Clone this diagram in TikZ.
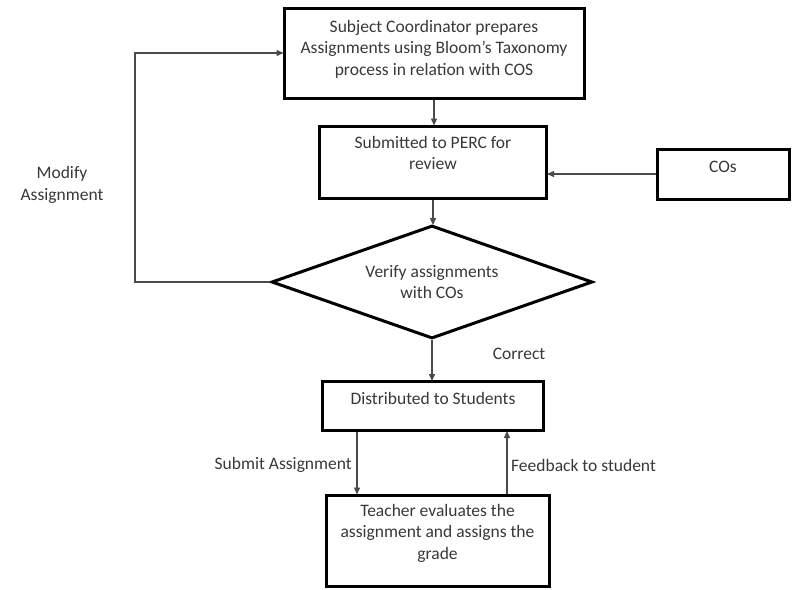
\documentclass[tikz,border=0pt]{standalone}
\usepackage{fontspec}
\setmainfont{Carlito}
\usetikzlibrary{arrows.meta,shapes.geometric}
\definecolor{ink}{HTML}{383838}
\definecolor{wire}{HTML}{4A4A4A}
\begin{document}
\begin{tikzpicture}[x=1pt,y=-1pt,
  stepbox/.style={draw=black,line width=3pt,inner sep=0pt,rectangle},
  decision/.style={draw=black,line width=3pt,inner sep=0pt,diamond},
  txt/.style={text=ink,align=center,inner sep=0pt,font=\fontsize{17.5}{21.5}\selectfont},
  flow/.style={draw=wire,line width=1.4pt,-{Triangle[length=7pt,width=6pt]},shorten >=-1pt}
]
\useasboundingbox (0,0) rectangle (792,589);

% process boxes
\node[stepbox,minimum width=300pt,minimum height=90pt] (b1) at (434,53) {};
\node[stepbox,minimum width=227pt,minimum height=72pt] (b2) at (433,162) {};
\node[stepbox,minimum width=132pt,minimum height=50pt] (cos) at (723,174) {};
\node[decision,minimum width=321pt,minimum height=113pt] (dia) at (432,282) {};
\node[stepbox,minimum width=221pt,minimum height=49pt] (b3) at (433,406) {};
\node[stepbox,minimum width=223pt,minimum height=91pt] (b4) at (437.5,540.5) {};

% box texts
\node[txt] (t1) at (434,49) {Subject Coordinator prepares\\Assignments using Bloom's Taxonomy\\process in relation with COS};
\node[txt] (t2) at (433,153) {Submitted to PERC for\\review};
\node[txt] (tcos) at (723,167) {COs};
\node[txt] (tdia) at (432,282) {Verify assignments\\with COs};
\node[txt] (t3) at (433,398) {Distributed to Students};
\node[txt] (t4) at (437.5,533) {Teacher evaluates the\\assignment and assigns the\\grade};

% edge labels
\node[txt] (lmod) at (62,185) {Modify\\Assignment};
\node[txt] (lcor) at (519,354) {Correct};
\node[txt,anchor=east] (lsub) at (352,465) {Submit Assignment};
\node[txt,anchor=west] (lfb) at (511,465) {Feedback to student};

% connectors
\coordinate (loop) at (135,282);
\coordinate (sub) at (357,0);
\coordinate (fb) at (507,0);
\draw[flow] (b1.south) -- (b1.south |- b2.north);
\draw[flow] (b2.south) -- (b2.south |- dia.north);
\draw[flow] (cos.west) -- (cos.west -| b2.east);
\draw[flow] (dia.west) -- (loop) |- (b1.west);
\draw[flow] (dia.south) -- (dia.south |- b3.north);
\draw[flow] (b3.south -| sub) -- (b4.north -| sub);
\draw[flow] (b4.north -| fb) -- (b3.south -| fb);
\end{tikzpicture}
\end{document}
